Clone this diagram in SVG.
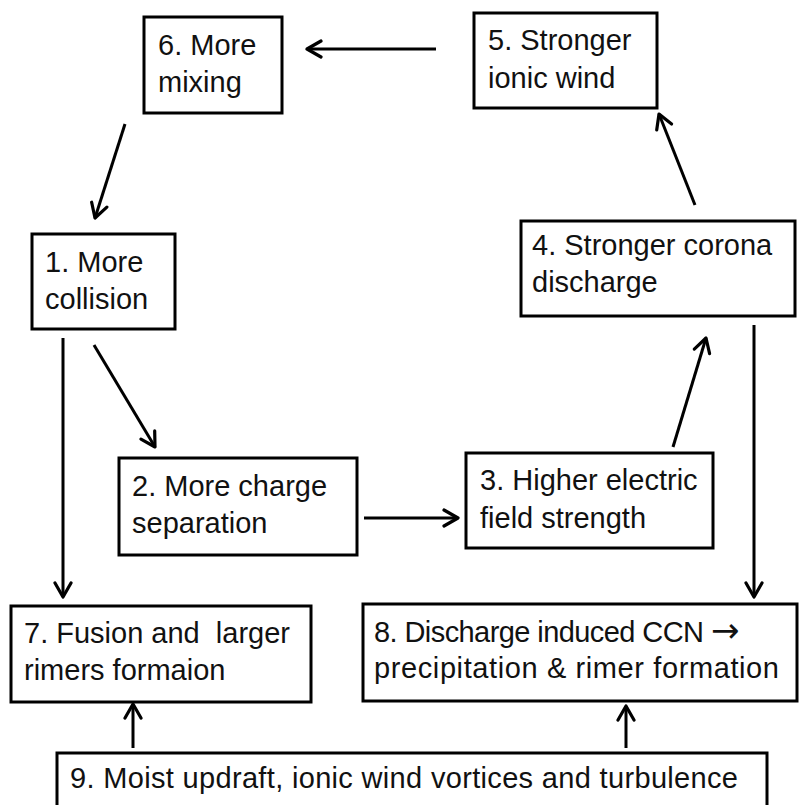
<svg xmlns="http://www.w3.org/2000/svg" width="800" height="805" viewBox="0 0 800 805">
<style>
.box{fill:#fff;stroke:#000;stroke-width:3}
.t{font-family:"Liberation Sans",Arial,sans-serif;font-size:29px;fill:#111}
.arr{font-family:"DejaVu Sans",sans-serif;font-size:34px}
.c{stroke:#000;stroke-width:3;fill:none;marker-end:url(#ah)}
</style>
<defs>
<marker id="ah" markerUnits="userSpaceOnUse" viewBox="0 0 18 20" refX="16" refY="10" markerWidth="18" markerHeight="20" orient="auto">
<path d="M2,2 L16,10 L2,18" fill="none" stroke="#000" stroke-width="3.2" stroke-linecap="round" stroke-linejoin="round"/>
</marker>
</defs>
<rect width="800" height="805" fill="#fff"/>
<g id="n6"><rect class="box" x="144" y="17" width="138" height="96"/><text class="t" x="158" y="55">6. More</text><text class="t" x="158" y="92">mixing</text></g>
<g id="n5"><rect class="box" x="474" y="13" width="183" height="95"/><text class="t" x="488" y="50">5. Stronger</text><text class="t" x="488" y="88">ionic wind</text></g>
<g id="n1"><rect class="box" x="32" y="234" width="143" height="95"/><text class="t" x="45" y="272">1. More</text><text class="t" x="45" y="309">collision</text></g>
<g id="n4"><rect class="box" x="521" y="221" width="274" height="95"/><text class="t" x="532" y="255">4. Stronger corona</text><text class="t" x="532" y="292">discharge</text></g>
<g id="n2"><rect class="box" x="119" y="458" width="238" height="97"/><text class="t" x="132" y="496">2. More charge</text><text class="t" x="132" y="533">separation</text></g>
<g id="n3"><rect class="box" x="466" y="453" width="247" height="95"/><text class="t" x="480" y="490">3. Higher electric</text><text class="t" x="480" y="528">field strength</text></g>
<g id="n7"><rect class="box" x="11" y="606" width="300" height="96"/><text class="t" x="24" y="643" xml:space="preserve">7. Fusion and  larger</text><text class="t" x="24" y="680">rimers formaion</text></g>
<g id="n8"><rect class="box" x="363" y="604" width="434" height="97"/><text class="t" x="374" y="642"><tspan textLength="330" lengthAdjust="spacing">8. Discharge induced CCN</tspan> <tspan class="arr" x="711">→</tspan></text><text class="t" x="374" y="678" textLength="405" lengthAdjust="spacing">precipitation &amp; rimer formation</text></g>
<g id="n9"><rect class="box" x="57" y="753" width="710" height="100"/><text class="t" x="70" y="788" textLength="668" lengthAdjust="spacing">9. Moist updraft, ionic wind vortices and turbulence</text></g>
<g id="connectors">
<line class="c" x1="436" y1="49" x2="307" y2="49"/>
<line class="c" x1="125" y1="124" x2="95" y2="218"/>
<line class="c" x1="63" y1="338" x2="63" y2="597"/>
<line class="c" x1="94" y1="345" x2="155" y2="447"/>
<line class="c" x1="364" y1="518" x2="458" y2="518"/>
<line class="c" x1="673" y1="447" x2="706" y2="338"/>
<line class="c" x1="695" y1="205" x2="659" y2="114"/>
<line class="c" x1="754" y1="325" x2="754" y2="597"/>
<line class="c" x1="133" y1="748" x2="133" y2="704"/>
<line class="c" x1="626" y1="748" x2="626" y2="706"/>
</g>
</svg>
